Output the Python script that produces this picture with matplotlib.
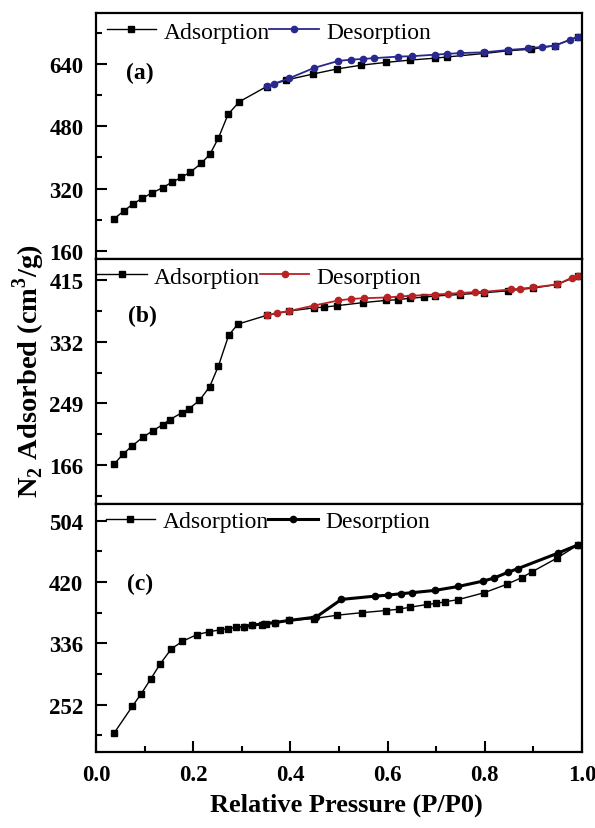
import matplotlib
matplotlib.use('Agg')
import matplotlib.pyplot as plt

plt.rcParams['font.family'] = ['Liberation Serif', 'DejaVu Serif']
plt.rcParams['mathtext.fontset'] = 'custom'
plt.rcParams['mathtext.rm'] = 'Liberation Serif:bold'
plt.rcParams['mathtext.bf'] = 'Liberation Serif:bold'

# (a) isotherm
a_ads_p = [0.037, 0.058, 0.077, 0.095, 0.116, 0.137, 0.156, 0.176, 0.194, 0.217, 0.235,
           0.252, 0.272, 0.295, 0.351, 0.392, 0.446, 0.495, 0.546, 0.596, 0.646, 0.698,
           0.722, 0.799, 0.848, 0.896, 0.944, 0.992]
a_ads_v = [242, 263, 281, 295, 309, 322, 336, 349, 362, 385, 409,
           450, 511, 543, 582, 599, 614, 627, 637, 644, 650, 655,
           658, 667, 674, 678, 687, 710]
a_des_p = [0.992, 0.975, 0.944, 0.917, 0.890, 0.848, 0.799, 0.749, 0.722, 0.698, 0.650,
           0.622, 0.572, 0.549, 0.524, 0.499, 0.449, 0.397, 0.366, 0.351]
a_des_v = [710, 702, 687, 684, 680, 676, 670, 668, 666, 664, 660,
           659, 655, 653, 651, 648, 630, 603, 589, 583]

# (b) isotherm
b_ads_p = [0.037, 0.056, 0.075, 0.096, 0.117, 0.137, 0.152, 0.177, 0.192, 0.213, 0.234,
           0.252, 0.273, 0.292, 0.351, 0.398, 0.449, 0.470, 0.497, 0.549, 0.596, 0.622,
           0.646, 0.676, 0.698, 0.749, 0.799, 0.847, 0.900, 0.949, 0.992]
b_ads_v = [166.6, 180.6, 191.8, 203, 212, 220, 227, 236.4, 242, 253, 271.5,
           299.4, 340.8, 356, 367.8, 373.7, 378, 379, 381, 385, 388, 389,
           391, 392.5, 394, 396, 398.4, 401, 404.7, 409.6, 421]
b_des_p = [0.992, 0.979, 0.949, 0.899, 0.872, 0.855, 0.799, 0.780, 0.749, 0.725, 0.698,
           0.650, 0.626, 0.598, 0.551, 0.524, 0.499, 0.448, 0.397, 0.372, 0.351]
b_des_v = [421, 418.6, 409.6, 405.6, 403.8, 403, 399.7, 399.3, 398, 397, 396,
           394.3, 393.4, 392, 391, 390, 388, 381, 373.7, 371, 367.8]

# (c) isotherm
c_ads_p = [0.037, 0.075, 0.093, 0.113, 0.132, 0.155, 0.178, 0.208, 0.232, 0.255, 0.272,
           0.289, 0.305, 0.322, 0.341, 0.350, 0.368, 0.397, 0.449, 0.497, 0.547, 0.597,
           0.623, 0.647, 0.682, 0.700, 0.719, 0.746, 0.799, 0.845, 0.876, 0.898, 0.948, 0.992]
c_ads_v = [212.6, 249.8, 266.7, 287.4, 307.6, 328.3, 338.8, 348, 351.7, 354.5, 356.2,
           358, 359, 360.8, 361.8, 362.7, 364.5, 367.3, 370, 374.6, 378, 381,
           382.8, 385.6, 389.3, 390.7, 393, 396, 405.4, 416.8, 426, 434.3, 452.6, 471]
c_des_p = [0.992, 0.950, 0.868, 0.848, 0.819, 0.797, 0.746, 0.698, 0.650, 0.627, 0.600,
           0.574, 0.505, 0.453, 0.397, 0.368, 0.343, 0.322, 0.305]
c_des_v = [471, 459.5, 438.4, 433.4, 425.5, 421.4, 414, 408.6, 405.4, 404, 402,
           400.7, 396.2, 372, 367.3, 364.5, 362.5, 361, 359]

panels = [
    dict(ads=(a_ads_p, a_ads_v), des=(a_des_p, a_des_v), color='#28288f', des_lw=1.3,
         ylim=(139, 771), major=[160, 320, 480, 640], minor=[240, 400, 560, 720],
         rect=[0.1613, 0.6864, 0.8167, 0.2967], tag='(a)', tag_xy=(0.091, 0.76),
         leg_x=0.022, leg_y=0.923),
    dict(ads=(b_ads_p, b_ads_v), des=(b_des_p, b_des_v), color='#b82225', des_lw=1.3,
         ylim=(113, 444), major=[166, 249, 332, 415], minor=[124.5, 207.5, 290.5, 373.5],
         rect=[0.1613, 0.3908, 0.8167, 0.2956], tag='(b)', tag_xy=(0.095, 0.77),
         leg_x=0.002, leg_y=0.927),
    dict(ads=(c_ads_p, c_ads_v), des=(c_des_p, c_des_v), color='black', des_lw=2.2,
         ylim=(187, 527), major=[252, 336, 420, 504], minor=[210, 294, 378, 462],
         rect=[0.1613, 0.0917, 0.8167, 0.2991], tag='(c)', tag_xy=(0.091, 0.68),
         leg_x=0.02, leg_y=0.93),
]

fig = plt.figure(figsize=(5.95, 8.29), dpi=100)

for i, p in enumerate(panels):
    ax = fig.add_axes(p['rect'])
    ax.plot(*p['ads'], '-', color='black', lw=1.0, marker='s', ms=4.2,
            label='Adsorption')
    ax.plot(*p['des'], '-', color=p['color'], lw=p['des_lw'], marker='o', ms=4.5,
            label='Desorption')
    ax.set_xlim(0, 1.0)
    ax.set_ylim(*p['ylim'])
    ax.set_yticks(p['major'])
    ax.set_yticks(p['minor'], minor=True)
    ax.set_xticks([0.0, 0.2, 0.4, 0.6, 0.8, 1.0])
    ax.set_xticks([0.1, 0.3, 0.5, 0.7, 0.9], minor=True)
    for s in ax.spines.values():
        s.set_linewidth(1.6)
    ax.tick_params(which='both', direction='in', width=1.5, top=False, right=False,
                   labelsize=16.5)
    ax.tick_params(which='major', length=8, pad=9)
    ax.tick_params(which='minor', length=4.5)
    if i < 2:
        ax.tick_params(axis='x', which='both', bottom=False, labelbottom=False)
    else:
        ax.xaxis.set_major_formatter(matplotlib.ticker.FormatStrFormatter('%.1f'))
    for lbl in ax.get_yticklabels() + ax.get_xticklabels():
        lbl.set_fontweight('bold')
    ax.text(*p['tag_xy'], p['tag'], transform=ax.transAxes, fontsize=17,
            fontweight='bold', va='center', ha='center')
    ax.legend(loc='center left', bbox_to_anchor=(p['leg_x'], p['leg_y']), ncol=2,
              frameon=False, fontsize=17, handlelength=2.1, handletextpad=0.3,
              columnspacing=0.0, borderpad=0, borderaxespad=0)

fig.text(0.582, 0.029, 'Relative Pressure (P/P0)', ha='center', va='center',
         fontsize=19, fontweight='bold')
fig.text(0.048, 0.553, r'N$_2$ Adsorbed (cm$^3$/g)', ha='center', va='center',
         rotation=90, fontsize=20.5, fontweight='bold')

fig.savefig('out.png', dpi=100)
